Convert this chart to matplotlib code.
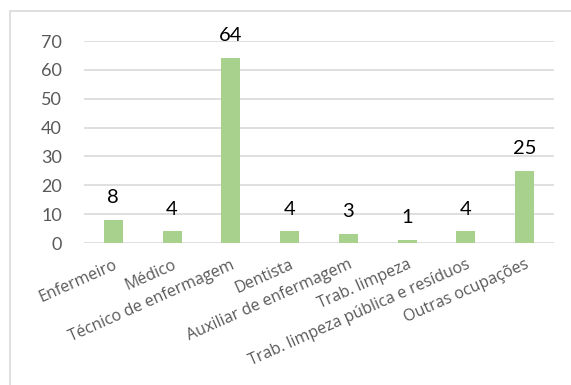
import matplotlib.pyplot as plt
from matplotlib.patches import Rectangle

plt.rcParams['font.family'] = ['Lato', 'DejaVu Sans']

ocupacoes = ["Enfermeiro", "Médico", "Técnico de enfermagem", "Dentista",
             "Auxiliar de enfermagem", "Trab. limpeza",
             "Trab. limpeza pública e resíduos", "Outras ocupações"]
casos = [8, 4, 64, 4, 3, 1, 4, 25]
yticks = [0, 10, 20, 30, 40, 50, 60, 70]

grid_color = "#d9d9d9"
text_gray = "#595959"

fig = plt.figure(figsize=(5.71, 3.85), dpi=100)
fig.patch.set_facecolor("white")

# light frame around the chart area
fig.patches.append(Rectangle((10 / 571, -0.2), 1.2, 0.2 + 1 - 11 / 385,
                             transform=fig.transFigure, fill=False,
                             edgecolor=grid_color, linewidth=1.2))

ax = fig.add_axes([84 / 571, 1 - 243 / 385, 470 / 571, 202 / 385])
x = range(len(ocupacoes))
bars = ax.bar(x, casos, width=0.32, color="#a9d18e", zorder=3)

ax.set_xlim(-0.5, len(ocupacoes) - 0.5)
ax.set_ylim(0, 70)
ax.set_yticks(yticks)
ax.yaxis.grid(True, color=grid_color, linewidth=1.2, zorder=0)
ax.set_axisbelow(True)
for side in ["top", "right", "left", "bottom"]:
    ax.spines[side].set_visible(False)

ax.tick_params(axis="y", length=0, pad=16, labelsize=13, labelcolor=text_gray)
ax.tick_params(axis="x", length=0, pad=10)
ax.set_xticks(list(x))
ax.set_xticklabels(ocupacoes, rotation=24, ha="right", rotation_mode="anchor",
                   fontsize=11.5, color=text_gray, family=["Open Sans", "DejaVu Sans"])

for b, v in zip(bars, casos):
    ax.annotate(str(v), (b.get_x() + b.get_width() / 2, v),
                xytext=(0, 10), textcoords="offset points",
                ha="center", va="bottom", fontsize=14.5, color="black")

fig.savefig("out.png", dpi=100)
